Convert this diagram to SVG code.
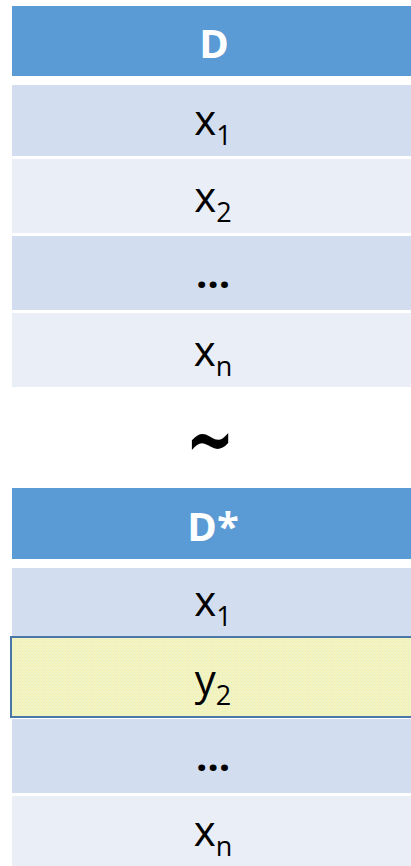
<svg xmlns="http://www.w3.org/2000/svg" width="411" height="866" viewBox="0 0 411 866">
<defs>
<style>
.hdr{fill:#5b9bd5}
.r1{fill:#d2deef}
.r2{fill:#e9eef7}
.ht{font-family:"Open Sans","Liberation Sans",sans-serif;font-weight:bold;font-size:40px;fill:#ffffff;text-anchor:middle}
.ct{font-family:"Open Sans","Liberation Sans",sans-serif;font-size:42px;fill:#000000;text-anchor:middle}
.el{font-family:"Open Sans","Liberation Sans",sans-serif;font-weight:bold;font-size:40px;fill:#000000;text-anchor:middle}
.sub{font-size:27px}
.tl{font-family:"DejaVu Sans",sans-serif;font-weight:bold;font-size:58px;fill:#000000;text-anchor:middle}
</style>
<pattern id="dots" width="3" height="3" patternUnits="userSpaceOnUse">
<rect width="3" height="3" fill="#f1f3b8"/>
<rect width="1" height="1" fill="#e9edd8"/>
<rect x="1.5" y="1.5" width="1" height="1" fill="#f6f7e0"/>
</pattern>
</defs>
<g id="table-D">
<g id="D-header"><rect class="hdr" x="12" y="6" width="399" height="70"/><text class="ht" x="214" y="58">D</text></g>
<g id="D-x1"><rect class="r1" x="12" y="85" width="399" height="71"/><text class="ct" x="213" y="135">x<tspan class="sub" dy="10">1</tspan></text></g>
<g id="D-x2"><rect class="r2" x="12" y="159" width="399" height="74"/><text class="ct" x="213" y="212">x<tspan class="sub" dy="10">2</tspan></text></g>
<g id="D-dots"><rect class="r1" x="12" y="236" width="399" height="74"/><text class="el" x="213" y="288">…</text></g>
<g id="D-xn"><rect class="r2" x="12" y="313" width="399" height="74"/><text class="ct" x="213" y="366">x<tspan class="sub" dy="10">n</tspan></text></g>
</g>
<g id="tilde"><text class="tl" transform="translate(210 467) scale(1 1.4)" x="0" y="0">~</text></g>
<g id="table-Dstar">
<g id="Dstar-header"><rect class="hdr" x="12" y="488" width="399" height="71"/><text class="ht" x="213" y="541">D*</text></g>
<g id="Dstar-x1"><rect class="r1" x="12" y="568" width="399" height="68"/><text class="ct" x="213" y="616">x<tspan class="sub" dy="10">1</tspan></text></g>
<g id="Dstar-y2"><rect x="11" y="637" width="402" height="80" fill="url(#dots)" stroke="#4a76a8" stroke-width="2"/><text class="ct" x="213" y="695" fill="#1a1a00">y<tspan class="sub" dy="10">2</tspan></text></g>
<g id="Dstar-dots"><rect class="r1" x="12" y="719" width="399" height="74"/><text class="el" x="213" y="771">…</text></g>
<g id="Dstar-xn"><rect class="r2" x="12" y="796" width="399" height="70"/><text class="ct" x="213" y="846">x<tspan class="sub" dy="10">n</tspan></text></g>
</g>
<g id="connectors"/>
</svg>
